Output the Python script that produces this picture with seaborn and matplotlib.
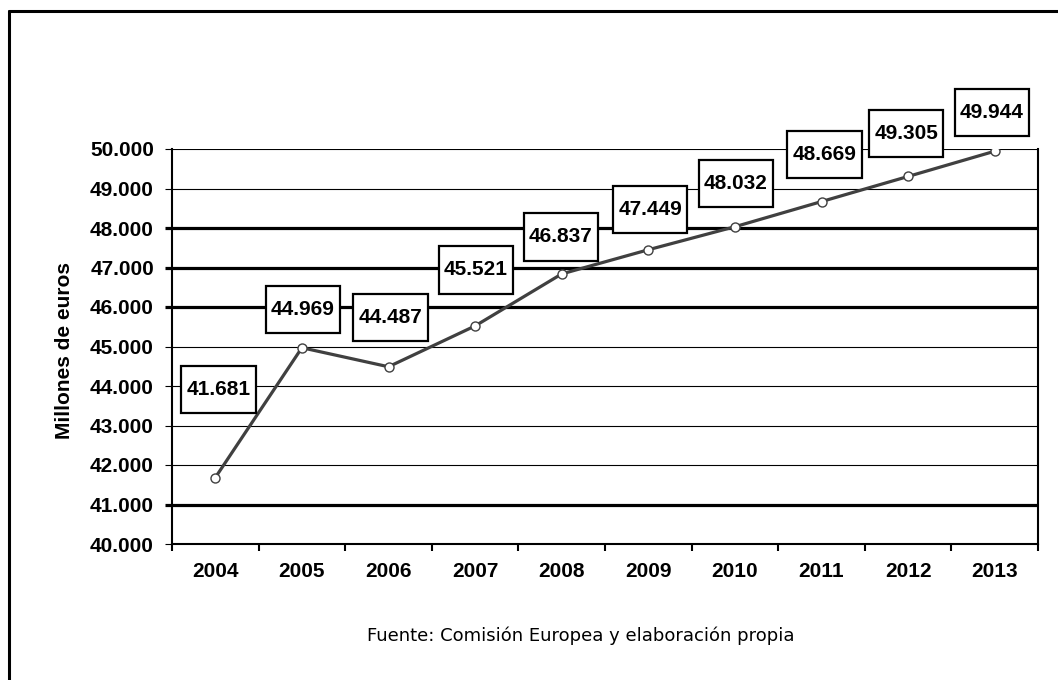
import numpy as np
import pandas as pd
import matplotlib
matplotlib.use("Agg")
import matplotlib.pyplot as plt
from matplotlib.path import Path
from matplotlib.lines import Line2D
import seaborn as sns

# ---- data ----
years = ["2004", "2005", "2006", "2007", "2008", "2009", "2010", "2011", "2012", "2013"]
values = [41681, 44969, 44487, 45521, 46837, 47449, 48032, 48669, 49305, 49944]
value_labels = ["41.681", "44.969", "44.487", "45.521", "46.837", "47.449",
                "48.032", "48.669", "49.305", "49.944"]
y_ticks = [40000, 41000, 42000, 43000, 44000, 45000, 46000, 47000, 48000, 49000, 50000]
y_tick_labels = ["40.000", "41.000", "42.000", "43.000", "44.000", "45.000",
                 "46.000", "47.000", "48.000", "49.000", "50.000"]
thick_grid = [41000, 46000, 47000, 48000]
y_title = "Millones de euros"
source = "Fuente: Comisión Europea y elaboración propia"

# label offsets (pixels) from each point
label_offsets = [(3, 88), (1, 38), (2, 49), (1, 56), (-1, 37), (2, 40),
                 (1, 43), (3, 47), (-2, 43), (-3, 39)]

sns.set_theme(style="white")
plt.rcParams["font.family"] = ["Liberation Sans", "DejaVu Sans"]
plt.rcParams["text.color"] = "black"
plt.rcParams["axes.labelcolor"] = "black"
plt.rcParams["xtick.color"] = "black"
plt.rcParams["ytick.color"] = "black"

W, H = 1058, 680
fig = plt.figure(figsize=(W / 100, H / 100), dpi=100)
fig.patch.set_facecolor("white")
ax = fig.add_axes([172 / W, 1 - 544 / H, (1038 - 172) / W, (544 - 149) / H])

df = pd.DataFrame({"pos": np.arange(len(years)), "value": values})
sns.lineplot(data=df, x="pos", y="value", ax=ax, color="#404040", linewidth=2.3,
             marker="o", markersize=6.5, markerfacecolor="white",
             markeredgecolor="#404040", markeredgewidth=1.0, zorder=5)

ax.set_xlim(-0.5, len(years) - 0.5)
ax.set_ylim(40000, 50000)

# x ticks: marks at category boundaries, labels at centers
ax.set_xticks(np.arange(-0.5, len(years), 1.0))
ax.set_xticklabels([])
ax.set_xticks(np.arange(len(years)), minor=True)
ax.set_xticklabels(years, minor=True, fontsize=15, fontweight="bold", color="black")
ax.tick_params(axis="x", which="major", direction="out", length=5, width=1.5,
               color="black", bottom=True)
ax.tick_params(axis="x", which="minor", length=0, pad=13, bottom=True)
ax.set_xlabel("")

ax.set_yticks(y_ticks)
ax.set_yticklabels(y_tick_labels, fontsize=15, fontweight="bold", color="black")
ax.tick_params(axis="y", direction="out", length=5, width=0.8, color="black",
               pad=8, left=True)
ax.set_ylabel(y_title, fontsize=15, fontweight="bold", va="center", color="black")
ax.yaxis.set_label_coords((65 - 172) / (1038 - 172), 0.49)

# grid
ax.yaxis.grid(True, color="black", linewidth=0.8)
ax.xaxis.grid(False)
for val, gl, tk in zip(ax.get_yticks(), ax.yaxis.get_gridlines(), ax.yaxis.get_major_ticks()):
    if int(round(val)) in thick_grid:
        gl.set_linewidth(2.3)
        tk.tick1line.set_markeredgewidth(2.3)
    if int(round(val)) == 40000:
        gl.set_visible(False)

for side in ["left", "bottom", "right"]:
    ax.spines[side].set_visible(True)
    ax.spines[side].set_color("black")
    ax.spines[side].set_linewidth(1.5)
ax.spines["top"].set_visible(False)


def tall_box(x0, y0, width, height, mutation_size):
    padx = 0.25 * mutation_size
    pady = 0.68 * mutation_size
    x0 -= padx
    y0 -= pady
    x1 = x0 + width + 2 * padx
    y1 = y0 + height + 2 * pady
    return Path([(x0, y0), (x1, y0), (x1, y1), (x0, y1), (x0, y0)],
                [Path.MOVETO, Path.LINETO, Path.LINETO, Path.LINETO, Path.CLOSEPOLY])


for i, (v, lab) in enumerate(zip(values, value_labels)):
    dx, dy = label_offsets[i]
    ax.annotate(lab, xy=(i, v), xytext=(dx, dy), textcoords="offset pixels",
                ha="center", va="center", fontsize=15, fontweight="bold",
                color="black", zorder=10, annotation_clip=False,
                bbox=dict(boxstyle=tall_box, facecolor="white",
                          edgecolor="black", linewidth=1.6))

fig.text(581 / W, 1 - 636 / H, source, ha="center", va="center",
         fontsize=13, family=["DejaVu Sans"], color="black")

# outer frame (top and left visible)
fig.add_artist(Line2D([9 / W, 1.0], [1 - 11 / H, 1 - 11 / H],
                      transform=fig.transFigure, color="black", linewidth=2.2))
fig.add_artist(Line2D([9 / W, 9 / W], [0.0, 1 - 11 / H],
                      transform=fig.transFigure, color="black", linewidth=2.2))

fig.savefig("out.png", dpi=100, facecolor="white")
